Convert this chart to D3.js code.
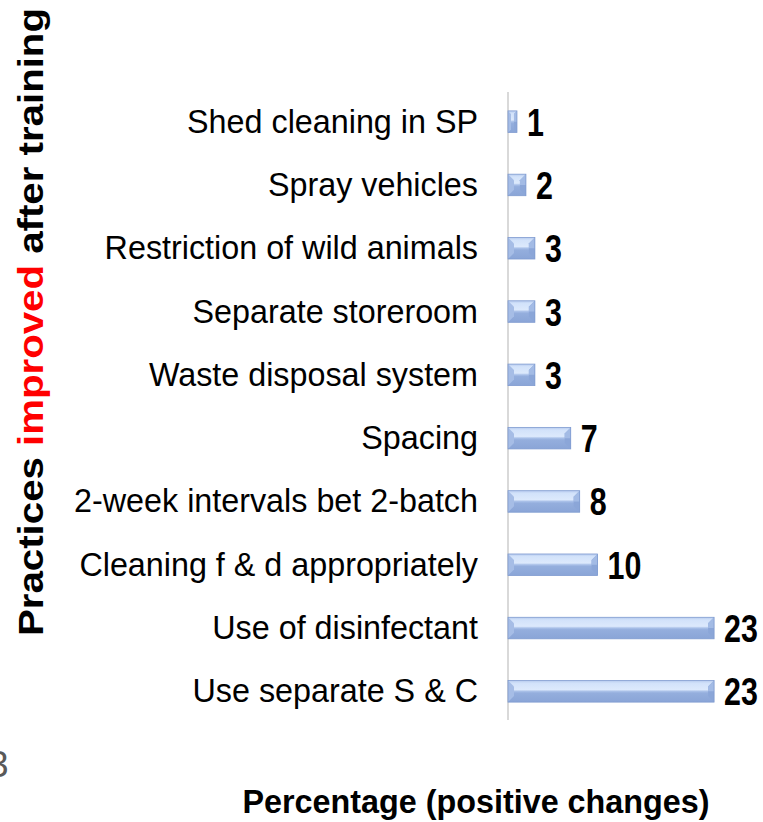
<!DOCTYPE html>
<html>
<head>
<meta charset="utf-8">
<script src="https://cdn.jsdelivr.net/npm/d3@7"></script>
<style>
  html, body { margin: 0; padding: 0; background: #fff; overflow: hidden; }
  svg { display: block; }
</style>
</head>
<body>
<div id="chart"></div>
<script>
// data (top to bottom)
const categories = [
  "Shed cleaning in SP",
  "Spray vehicles",
  "Restriction of wild animals",
  "Separate storeroom",
  "Waste disposal system",
  "Spacing",
  "2-week intervals bet 2-batch",
  "Cleaning f & d appropriately",
  "Use of disinfectant",
  "Use separate S & C"
];
const values = [1, 2, 3, 3, 3, 7, 8, 10, 23, 23];
const xDomain = [0, 25];

const W = 763, H = 822;
const axisX = 508;
const FONT = "Liberation Sans, Arial, sans-serif";

const svg = d3.select("#chart").append("svg")
  .attr("width", W)
  .attr("height", H);

// gradient untuk batang
const defs = svg.append("defs");
const grad = defs.append("linearGradient")
  .attr("id", "barGrad")
  .attr("x1", 0).attr("y1", 0).attr("x2", 0).attr("y2", 1);
[
  [0, "#b7cbee"], [0.12, "#d2e2fa"], [0.42, "#dce9fc"],
  [0.5, "#a9c0e8"], [0.58, "#94aedd"], [1, "#8aa5d7"]
].forEach(([o, c]) => grad.append("stop").attr("offset", o).attr("stop-color", c));

// skala
const xScale = d3.scaleLinear().domain(xDomain).range([axisX, axisX + 224]);
const yScale = d3.scaleBand()
  .domain(categories)
  .range([90, 723])
  .paddingInner(0.66)
  .paddingOuter(0.33);

// garis sumbu
svg.append("line")
  .attr("x1", axisX).attr("x2", axisX)
  .attr("y1", 92).attr("y2", 720)
  .attr("stroke", "#d9d9d9")
  .attr("stroke-width", 2);

// batang
const rows = categories.map((c, i) => ({ cat: c, val: values[i] }));
const bars = svg.selectAll(".bar").data(rows).enter().append("g").attr("class", "bar");

bars.each(function(d) {
  const g = d3.select(this);
  const x0 = xScale(0), x1 = xScale(d.val);
  const y0 = yScale(d.cat), y1 = y0 + yScale.bandwidth();
  const b = Math.min(6, (x1 - x0) / 3);
  g.append("rect")
    .attr("x", x0).attr("y", y0)
    .attr("width", x1 - x0).attr("height", y1 - y0)
    .attr("fill", "url(#barGrad)");
  // ujung kanan
  g.append("polygon")
    .attr("points", [[x1 - b, y0 + b], [x1, y0], [x1, y1], [x1 - b, y1 - b]].join(" "))
    .attr("fill", "#8ba6d8");
  g.append("polygon")
    .attr("points", [[x1 - b, y0 + b], [x1, y0], [x1, (y0 + y1) / 2], [x1 - b, (y0 + y1) / 2]].join(" "))
    .attr("fill", "#a3bbe5");
  // ujung kiri
  g.append("polygon")
    .attr("points", [[x0, y0], [x0 + b, y0 + b], [x0 + b, y1 - b], [x0, y1]].join(" "))
    .attr("fill", "#a6bde6");
  g.append("rect")
    .attr("x", x0).attr("y", y0)
    .attr("width", x1 - x0).attr("height", y1 - y0)
    .attr("fill", "none")
    .attr("stroke", "#7f9bd0")
    .attr("stroke-width", 0.8);
});

// label kategori — sedikit dipersempit
svg.selectAll(".cat").data(rows).enter().append("text")
  .attr("class", "cat")
  .attr("x", 478)
  .attr("y", d => yScale(d.cat) + yScale.bandwidth() / 2 + 11)
  .attr("text-anchor", "end")
  .attr("font-family", FONT)
  .attr("font-size", 34)
  .attr("fill", "#000")
  .text(d => d.cat)
  .each(function() {
    const w = this.getComputedTextLength();
    d3.select(this).attr("textLength", w * 0.95).attr("lengthAdjust", "spacingAndGlyphs");
  });

// label nilai — bold sempit (pakai scale supaya lebar kotaknya ikut)
svg.selectAll(".val").data(rows).enter().append("text")
  .attr("class", "val")
  .attr("transform", d =>
    `translate(${xScale(d.val) + 10},${yScale(d.cat) + yScale.bandwidth() / 2 + 14}) scale(0.78,1)`)
  .attr("font-family", FONT)
  .attr("font-weight", "bold")
  .attr("font-size", 39)
  .attr("fill", "#000")
  .text(d => d.val);

// judul sumbu y
const yTitle = svg.append("text")
  .attr("font-family", FONT)
  .attr("font-weight", "bold")
  .attr("font-size", 35)
  .attr("text-anchor", "middle")
  .attr("transform", "translate(43,322) rotate(-90)");
yTitle.append("tspan").attr("fill", "#000").text("Practices ");
yTitle.append("tspan").attr("fill", "#ff0000").text("improved");
yTitle.append("tspan").attr("fill", "#000").text(" after training");
yTitle.attr("textLength", 628).attr("lengthAdjust", "spacingAndGlyphs");

// judul sumbu x
svg.append("text")
  .attr("x", 476)
  .attr("y", 813)
  .attr("text-anchor", "middle")
  .attr("font-family", FONT)
  .attr("font-weight", "bold")
  .attr("font-size", 33)
  .attr("textLength", 467)
  .attr("lengthAdjust", "spacingAndGlyphs")
  .text("Percentage (positive changes)");

// sisa angka di pojok kiri bawah (terpotong seperti aslinya)
svg.append("text")
  .attr("x", -12)
  .attr("y", 777)
  .attr("font-family", FONT)
  .attr("font-size", 37)
  .attr("fill", "#595959")
  .text("3");
</script>
</body>
</html>
